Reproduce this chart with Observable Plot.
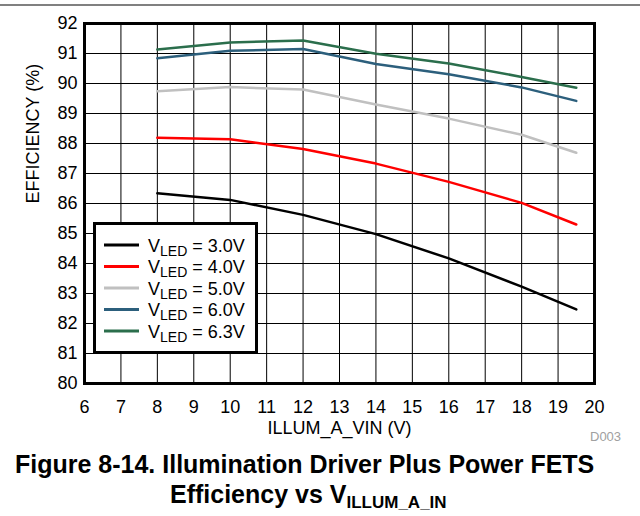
<!DOCTYPE html>
<html><head><meta charset="utf-8">
<script src="https://cdn.jsdelivr.net/npm/d3@7"></script>
<script src="https://cdn.jsdelivr.net/npm/@observablehq/plot@0.6"></script>
<style>
body{margin:0;background:#fff;}
#wrap{position:relative;width:640px;height:516px;overflow:hidden;font-family:"Liberation Sans",Arial,sans-serif;background:#fff;}
#chart{position:absolute;left:0;top:0;}
#over{position:absolute;left:0;top:0;}
</style></head><body>
<div id="wrap"><div id="chart"></div><svg id="over" width="640" height="516"></svg></div>
<script>
// Data
const vin   = [8, 10, 12, 14, 16, 18, 19.5];
const eff30 = [86.34, 86.12, 85.62, 84.98, 84.17, 83.23, 82.47];
const eff40 = [88.19, 88.14, 87.82, 87.33, 86.72, 86.02, 85.30];
const eff50 = [89.74, 89.88, 89.80, 89.30, 88.83, 88.29, 87.69];
const eff60 = [90.84, 91.09, 91.15, 90.65, 90.31, 89.87, 89.42];
const eff63 = [91.13, 91.37, 91.43, 90.99, 90.67, 90.22, 89.86];
const seriesNames  = ["3.0V", "4.0V", "5.0V", "6.0V", "6.3V"];
const seriesColors = ["#000000", "#ff0000", "#c0c0c0", "#2c5f7c", "#2b6e4c"];
const seriesValues = [eff30, eff40, eff50, eff60, eff63];
const xTicks = d3.range(6, 21);
const yTicks = d3.range(80, 93);
const xLabel = "ILLUM_A_VIN (V)";
const yLabel = "EFFICIENCY (%)";
const titleLine1 = "Figure 8-14. Illumination Driver Plus Power FETS";
const titleLine2 = "Efficiency vs V";
const titleSub = "ILLUM_A_IN";
const docId = "D003";

const rows = seriesNames.flatMap((s, i) => vin.map((v, j) => ({series: s, vin: v, eff: seriesValues[i][j]})));

const plot = Plot.plot({
  width: 640, height: 440,
  marginLeft: 84, marginRight: 46, marginTop: 23, marginBottom: 57,
  style: {fontFamily: '"Liberation Sans", Arial, sans-serif', fontSize: "18px", color: "#000", background: "transparent", overflow: "visible"},
  x: {domain: [6, 20]},
  y: {domain: [80, 92]},
  color: {domain: seriesNames, range: seriesColors},
  marks: [
    Plot.gridX(xTicks, {stroke: "#000", strokeOpacity: 1, strokeWidth: 1}),
    Plot.gridY(yTicks, {stroke: "#000", strokeOpacity: 1, strokeWidth: 1}),
    Plot.line(rows, {x: "vin", y: "eff", z: "series", stroke: "series", strokeWidth: 2.5}),
    Plot.frame({stroke: "#000", strokeWidth: 3}),
    Plot.axisX(xTicks, {tickSize: 0, tickPadding: 17, tickFormat: d => String(d), label: null}),
    Plot.axisY(yTicks, {tickSize: 0, tickPadding: 7, tickFormat: d => String(d), label: null}),
    Plot.text([xLabel], {frameAnchor: "bottom", dy: 50, fontSize: 18}),
    Plot.text([yLabel], {frameAnchor: "left", dx: -51, rotate: -90, fontSize: 18})
  ]
});
document.getElementById("chart").appendChild(plot);

// Overlay: top rule, legend, doc id, caption
const svg = d3.select("#over");
svg.append("rect").attr("x", 0).attr("y", 4).attr("width", 640).attr("height", 2).attr("fill", "#808080");

const lg = svg.append("g").attr("font-family", '"Liberation Sans", Arial, sans-serif');
lg.append("rect").attr("x", 94.5).attr("y", 223.5).attr("width", 162).attr("height", 129)
  .attr("fill", "#fff").attr("stroke", "#000").attr("stroke-width", 3);
seriesNames.forEach((s, i) => {
  const y = 245 + i * 21.5;
  lg.append("line").attr("x1", 104).attr("x2", 139).attr("y1", y).attr("y2", y)
    .attr("stroke", seriesColors[i]).attr("stroke-width", 3);
  const t = lg.append("text").attr("x", 148).attr("y", y + 6.5).attr("font-size", 18).attr("fill", "#000");
  t.append("tspan").text("V");
  t.append("tspan").attr("font-size", 14).attr("dy", 4).text("LED");
  t.append("tspan").attr("dy", -4).text(" = " + s);
});

svg.append("text").attr("x", 590).attr("y", 441).attr("font-size", 13).attr("fill", "#a0a0a0")
  .attr("font-family", '"Liberation Sans", Arial, sans-serif').text(docId);

const cap = svg.append("g").attr("font-family", '"Liberation Sans", Arial, sans-serif').attr("font-weight", "bold").attr("fill", "#000");
cap.append("text").attr("x", 15).attr("y", 473).attr("font-size", 25).text(titleLine1);
const t2 = cap.append("text").attr("x", 170).attr("y", 503).attr("font-size", 25);
t2.append("tspan").text(titleLine2);
t2.append("tspan").attr("font-size", 17).attr("dy", 5).text(titleSub);
</script>
</body></html>
